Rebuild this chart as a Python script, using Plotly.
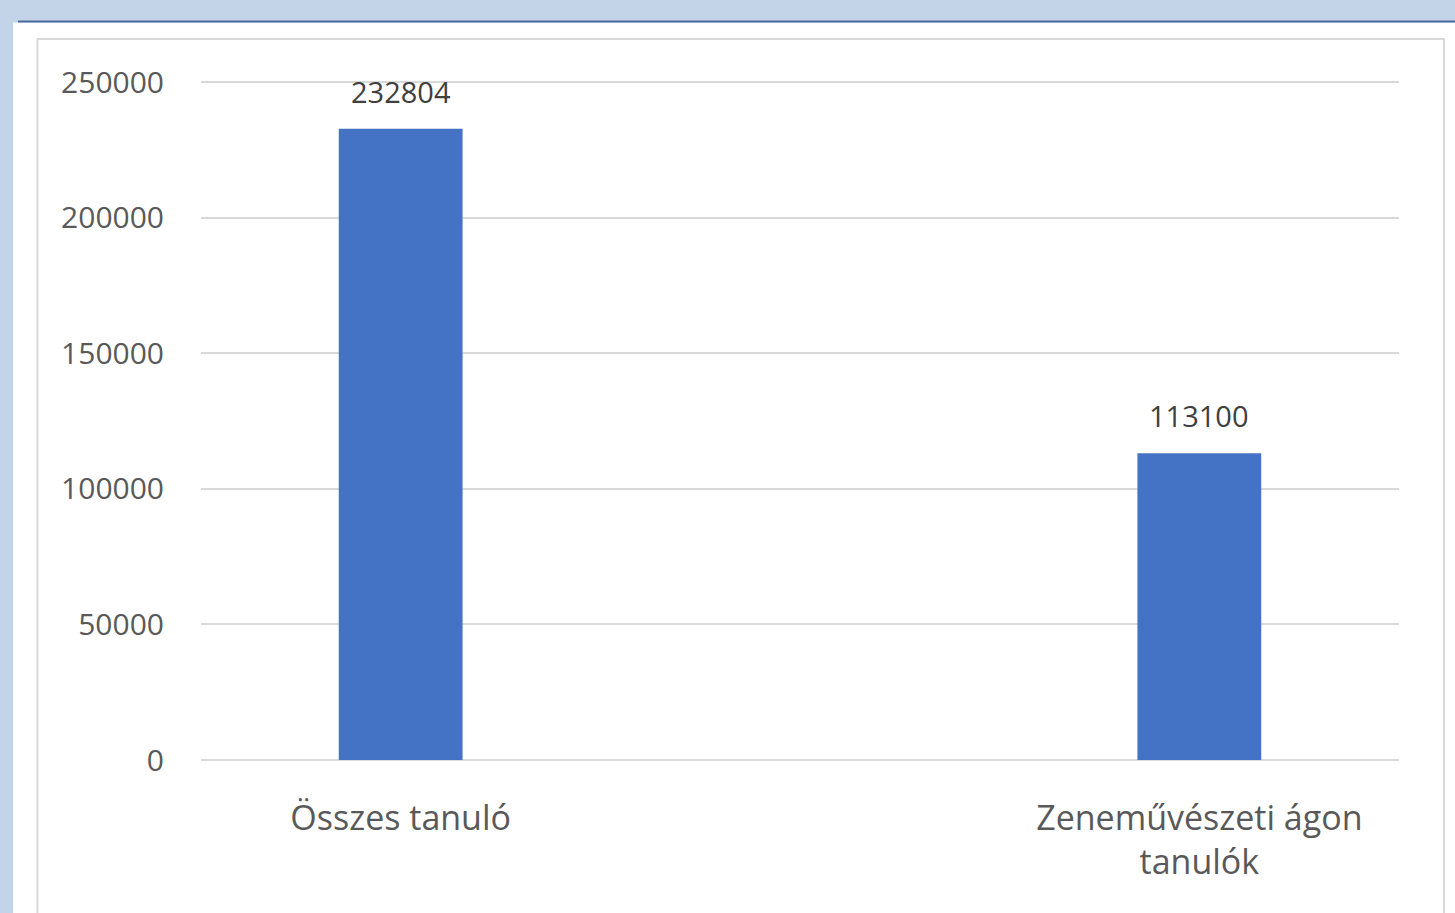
import plotly.graph_objects as go

categories = ["Összes tanuló", "Zeneművészeti ágon<br>tanulók"]
values = [232804, 113100]
value_labels = ["232804", "113100"]
tick_vals = [0, 50000, 100000, 150000, 200000, 250000]
tick_text = ["0", "50000", "100000", "150000", "200000", "250000"]

W, H = 1455, 913
L, R, T, B = 201, 56, 81, 153
pw, ph = W - L - R, H - T - B

def px(x):
    return (x - L) / pw

def py(y):
    return 1 - (y - T) / ph

font_family = "Open Sans, Noto Sans, DejaVu Sans, sans-serif"

fig = go.Figure()
fig.add_trace(go.Bar(
    x=categories, y=values,
    marker=dict(color="#4472c4", line=dict(width=0)),
    width=0.155,
    hoverinfo="skip",
))

for c, v, t in zip(categories, values, value_labels):
    fig.add_annotation(x=c, y=v, text=t, showarrow=False, yanchor="bottom",
                       yshift=16, font=dict(size=29, color="#404040", family=font_family))

shapes = [
    dict(type="rect", xref="paper", yref="paper", x0=px(13), x1=px(W + 5), y0=py(H + 5), y1=py(22.5),
         fillcolor="white", line=dict(width=0), layer="below"),
    dict(type="line", xref="paper", yref="paper", x0=px(18), x1=px(W + 5), y0=py(21.5), y1=py(21.5),
         line=dict(color="#4a6a9c", width=2), layer="below"),
    dict(type="rect", xref="paper", yref="paper", x0=px(37.5), x1=px(1444), y0=py(H + 10), y1=py(39),
         fillcolor="rgba(0,0,0,0)", line=dict(color="#d9d9d9", width=2), layer="below"),
]

fig.update_layout(
    width=W, height=H,
    margin=dict(l=L, r=R, t=T, b=B, pad=0),
    paper_bgcolor="#c3d4e9",
    plot_bgcolor="white",
    showlegend=False,
    shapes=shapes,
    font=dict(family=font_family, color="#595959"),
)
fig.update_xaxes(
    range=[-0.25, 1.25],
    showgrid=False, showline=False, zeroline=False,
    ticks="", tickfont=dict(size=34, color="#595959", family=font_family),
    ticklabelstandoff=35,
)
fig.update_yaxes(
    range=[0, 250400], tickvals=tick_vals, ticktext=tick_text,
    showgrid=True, gridcolor="#d9d9d9", gridwidth=2,
    zeroline=True, zerolinecolor="#d9d9d9", zerolinewidth=2,
    showline=False, ticks="", tickfont=dict(size=30, color="#595959", family=font_family),
    ticklabelstandoff=36,
)

fig.write_html("out.html", config={"displayModeBar": False},
               post_script="document.body.style.margin='0';document.body.style.overflow='hidden';")
